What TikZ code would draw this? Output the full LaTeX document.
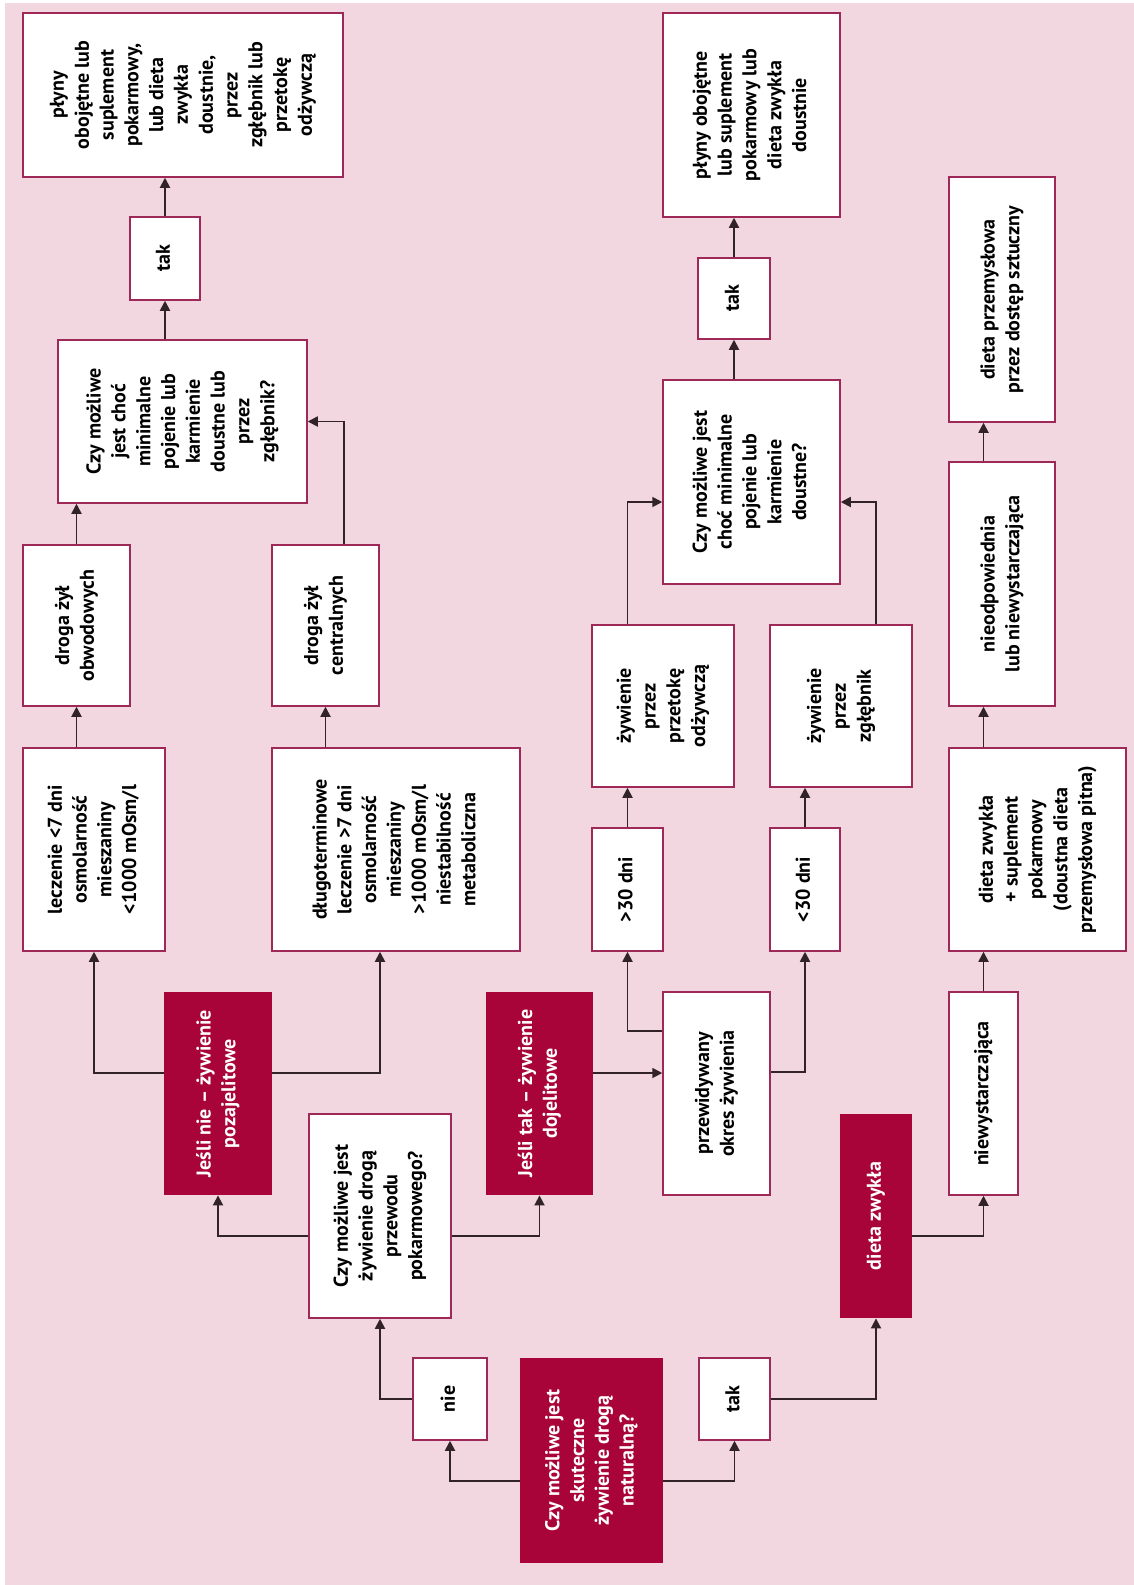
\documentclass[tikz,border=0pt]{standalone}
\usepackage{fontspec}
\setmainfont{PT Sans}
\usepackage{graphicx}
\usetikzlibrary{arrows.meta}
\definecolor{tlo}{RGB}{242,214,224}
\definecolor{bordo}{RGB}{168,4,58}
\definecolor{ramka}{RGB}{158,40,88}
\definecolor{linia}{RGB}{50,35,40}
\newcommand{\pion}[1]{\rotatebox{90}{\begin{tabular}{@{}c@{}}#1\end{tabular}}}
\tikzset{
  wym/.style 2 args={minimum width=#1*0.5pt, minimum height=#2*0.5pt},
  biale/.style={draw=ramka, line width=0.75pt, fill=white, inner sep=0pt, text=black},
  ciemne/.style={fill=bordo, inner sep=0pt, text=white},
  strz/.style={draw=linia, line width=0.9pt, -{Triangle[length=5pt,width=5pt]}}}
\begin{document}
\begin{tikzpicture}[x=0.5pt, y=-0.5pt, font=\fontsize{10}{12.4}\selectfont\bfseries]
  \useasboundingbox (0,0) rectangle (1134,1585);
  \fill[white] (0,0) rectangle (1134,1585);
  \fill[tlo] (5,3) rectangle (1134,1585);
  % lewa kolumna: zywienie pozajelitowe
  \node[biale,wym={320}{164}] (A) at (183,95) {\pion{płyny\\obojętne lub\\suplement\\pokarmowy,\\lub dieta\\zwykła\\doustnie,\\przez\\zgłębnik lub\\przetokę\\odżywczą}};
  \node[biale,wym={70}{83}] (tak1) at (165,258.5) {\pion{tak}};
  \node[biale,wym={249}{163}] (Q2) at (182.5,421.5) {\pion{Czy możliwe\\jest choć\\minimalne\\pojenie lub\\karmienie\\doustne lub\\przez\\zgłębnik?}};
  \node[biale,wym={107}{161}] (drogaO) at (76.5,625.5) {\pion{droga żył\\obwodowych}};
  \node[biale,wym={107}{161}] (drogaC) at (325.5,625.5) {\pion{droga żył\\centralnych}};
  \node[biale,wym={142}{203}] (lecz) at (94,849.5) {\pion{leczenie <7 dni\\osmolarność\\mieszaniny\\<1000 mOsm/l}};
  \node[biale,wym={248}{203}] (dlug) at (396,849.5) {\pion{długoterminowe\\leczenie >7 dni\\osmolarność\\mieszaniny\\>1000 mOsm/l\\niestabilność\\metaboliczna}};
  \node[ciemne,wym={108}{203}] (jnie) at (218,1093.5) {\pion{Jeśli nie – żywienie\\pozajelitowe}};
  \node[ciemne,wym={107}{203}] (jtak) at (539.5,1093.5) {\pion{Jeśli tak – żywienie\\dojelitowe}};
  \node[biale,wym={142}{204}] (Q1) at (380,1216) {\pion{Czy możliwe jest\\żywienie drogą\\przewodu\\pokarmowego?}};
  \node[biale,wym={74}{82}] (nie) at (450,1399) {\pion{nie}};
  \node[ciemne,wym={143}{205}] (Q0) at (591.5,1460.5) {\pion{Czy możliwe jest\\skuteczne\\żywienie drogą\\naturalną?}};
  \node[biale,wym={71}{82}] (tak2) at (734.5,1399) {\pion{tak}};
  % srodek: zywienie dojelitowe
  \node[biale,wym={107}{203}] (przew) at (716.5,1093.5) {\pion{przewidywany\\okres żywienia}};
  \node[biale,wym={71}{123}] (gt30) at (627.5,889.5) {\pion{>30 dni}};
  \node[biale,wym={70}{123}] (lt30) at (805,889.5) {\pion{<30 dni}};
  \node[biale,wym={142}{162}] (zywP) at (663,706) {\pion{żywienie\\przez\\przetokę\\odżywczą}};
  \node[biale,wym={142}{162}] (zywZ) at (841,706) {\pion{żywienie\\przez\\zgłębnik}};
  \node[biale,wym={177}{204}] (Q3) at (751.5,482) {\pion{Czy możliwe jest\\choć minimalne\\pojenie lub\\karmienie\\doustne?}};
  \node[biale,wym={72}{81}] (tak3) at (734,298.5) {\pion{tak}};
  \node[biale,wym={177}{204}] (B) at (751.5,115) {\pion{płyny obojętne\\lub suplement\\pokarmowy lub\\dieta zwykła\\doustnie}};
  % prawa kolumna: dieta zwykla
  \node[ciemne,wym={72}{204}] (dietaZ) at (876,1216) {\pion{dieta zwykła}};
  \node[biale,wym={69}{203}] (niewyst) at (983.5,1093.5) {\pion{niewystarczająca}};
  \node[biale,wym={177}{203}] (dzs) at (1037.5,849.5) {\pion{dieta zwykła\\+ suplement\\pokarmowy\\(doustna dieta\\przemysłowa pitna)}};
  \node[biale,wym={106}{244}] (nieodp) at (1002,584) {\pion{nieodpowiednia\\lub niewystarczająca}};
  \node[biale,wym={106}{245}] (dprz) at (1002,299.5) {\pion{dieta przemysłowa\\przez dostęp sztuczny}};

  \draw[strz] (Q0.west |- 0,1481) -| (nie);
  \draw[strz] (Q0.east |- 0,1481) -| (tak2);
  \draw[strz] (nie.west) -| (Q1);
  \draw[strz] (tak2.east) -| (dietaZ);
  \draw[strz] (Q1.west |- 0,1236) -| (jnie);
  \draw[strz] (Q1.east |- 0,1236) -| (jtak);
  \draw[strz] (jnie.west |- 0,1073) -| (lecz);
  \draw[strz] (jnie.east |- 0,1073) -| (dlug.south -| Q1);
  \draw[strz] (lecz.north -| drogaO) -- (drogaO);
  \draw[strz] (dlug.north -| drogaC) -- (drogaC);
  \draw[strz] (drogaO) -- (drogaO |- Q2.south);
  \draw[strz] (drogaC.north -| A.east) |- (Q2);
  \draw[strz] (tak1 |- Q2.north) -- (tak1);
  \draw[strz] (tak1) -- (tak1 |- A.south);
  \draw[strz] (jtak.east |- 0,1073) -- (przew.west |- 0,1073);
  \draw[strz] (przew.west |- 0,1031) -| (gt30);
  \draw[strz] (przew.east |- 0,1072) -| (lt30);
  \draw[strz] (gt30) -- (gt30 |- zywP.south);
  \draw[strz] (lt30) -- (lt30 |- zywZ.south);
  \draw[strz] (zywP.north -| gt30) |- (Q3.west |- 0,502);
  \draw[strz] (zywZ.north -| dietaZ) |- (Q3.east |- 0,502);
  \draw[strz] (tak3 |- Q3.north) -- (tak3);
  \draw[strz] (tak3) -- (tak3 |- B.south);
  \draw[strz] (dietaZ.east |- 0,1236) -| (niewyst);
  \draw[strz] (niewyst) -- (niewyst |- dzs.south);
  \draw[strz] (niewyst |- dzs.north) -- (niewyst |- nieodp.south);
  \draw[strz] (niewyst |- nieodp.north) -- (niewyst |- dprz.south);
\end{tikzpicture}
\end{document}
